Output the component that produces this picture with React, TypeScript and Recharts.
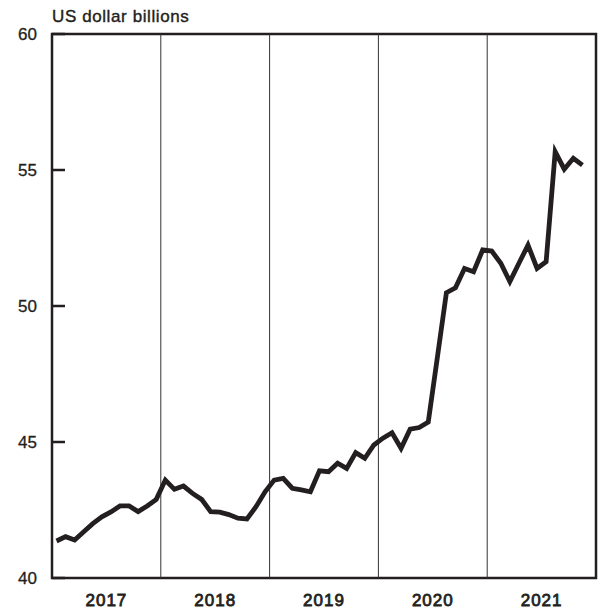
import React from 'react';
import { LineChart, Line, XAxis, YAxis, ReferenceLine, ReferenceArea } from 'recharts';

// Monthly values, Jan 2017 – Nov 2021 (US dollar billions)
const years = ['2017', '2018', '2019', '2020', '2021'];
const values2017 = [41.36, 41.52, 41.4, 41.7, 42.0, 42.25, 42.43, 42.65, 42.65, 42.44, 42.65, 42.89];
const values2018 = [43.6, 43.26, 43.38, 43.11, 42.89, 42.44, 42.42, 42.33, 42.2, 42.17, 42.62, 43.17];
const values2019 = [43.6, 43.66, 43.3, 43.24, 43.17, 43.94, 43.91, 44.22, 44.03, 44.61, 44.4, 44.89];
const values2020 = [45.14, 45.34, 44.77, 45.47, 45.53, 45.73, 48.1, 50.49, 50.67, 51.38, 51.26, 52.06];
const values2021 = [52.02, 51.57, 50.9, 51.57, 52.24, 51.38, 51.63, 55.67, 55.03, 55.43, 55.18];
const yTicks = [40, 45, 50, 55, 60];

const allValues = [...values2017, ...values2018, ...values2019, ...values2020, ...values2021];
// x is the month index, centred in its slot
const data = allValues.map((v, i) => ({ x: i + 0.5, value: v }));
const monthsTotal = years.length * 12;
const yearMid = years.map((_, i) => i * 12 + 6);
const yearBounds = years.slice(1).map((_, i) => (i + 1) * 12);

const INK = '#231f20';
const FONT = '"Liberation Sans", Arial, Helvetica, sans-serif';

const YTick = (props: any) => {
  const { x, y, payload } = props;
  return (
    <g>
      <line x1={x} x2={x + 13} y1={y} y2={y} stroke={INK} strokeWidth={2.5} />
      <text x={x - 15} y={y + 6} textAnchor="end" fontSize={17} fill={INK} stroke={INK} strokeWidth={0.3} fontFamily={FONT}>
        {payload.value}
      </text>
    </g>
  );
};

const XTick = (props: any) => {
  const { x, y, payload } = props;
  const idx = yearMid.indexOf(payload.value);
  return (
    <text x={x} y={y + 28} textAnchor="middle" fontSize={17} fill={INK} stroke={INK} strokeWidth={0.8} letterSpacing={1} fontFamily={FONT}>
      {years[idx]}
    </text>
  );
};

export default function App() {
  return (
    <div style={{ position: 'relative', width: 601, height: 612, background: '#fff' }}>
      <style>{`body{margin:0}`}</style>
      <svg width={601} height={40} style={{ position: 'absolute', left: 0, top: 0 }}>
        <text x={52} y={22} fontSize={17} fill={INK} stroke={INK} strokeWidth={0.4} fontFamily={FONT} letterSpacing={0.6}>
          US dollar billions
        </text>
      </svg>
      <LineChart width={601} height={612} data={data} margin={{ top: 34, right: 5, left: 0, bottom: 0 }}>
        <XAxis
          dataKey="x"
          type="number"
          domain={[0, monthsTotal]}
          ticks={yearMid}
          tick={<XTick />}
          tickSize={0}
          tickMargin={0}
          tickLine={false}
          axisLine={false}
          height={34}
          interval={0}
        />
        <YAxis
          type="number"
          domain={[40, 60]}
          ticks={yTicks}
          tick={<YTick />}
          tickSize={0}
          tickMargin={0}
          tickLine={false}
          axisLine={false}
          width={52}
          interval={0}
        />
        {yearBounds.map((b) => (
          <ReferenceLine key={b} x={b} stroke="#333" strokeWidth={1} />
        ))}
        <ReferenceArea x1={0} x2={monthsTotal} y1={40} y2={60} fill="none" stroke={INK} strokeWidth={2.5} />
        <Line
          type="linear"
          dataKey="value"
          stroke={INK}
          strokeWidth={4.8}
          dot={false}
          activeDot={false}
          isAnimationActive={false}
        />
      </LineChart>
    </div>
  );
}
